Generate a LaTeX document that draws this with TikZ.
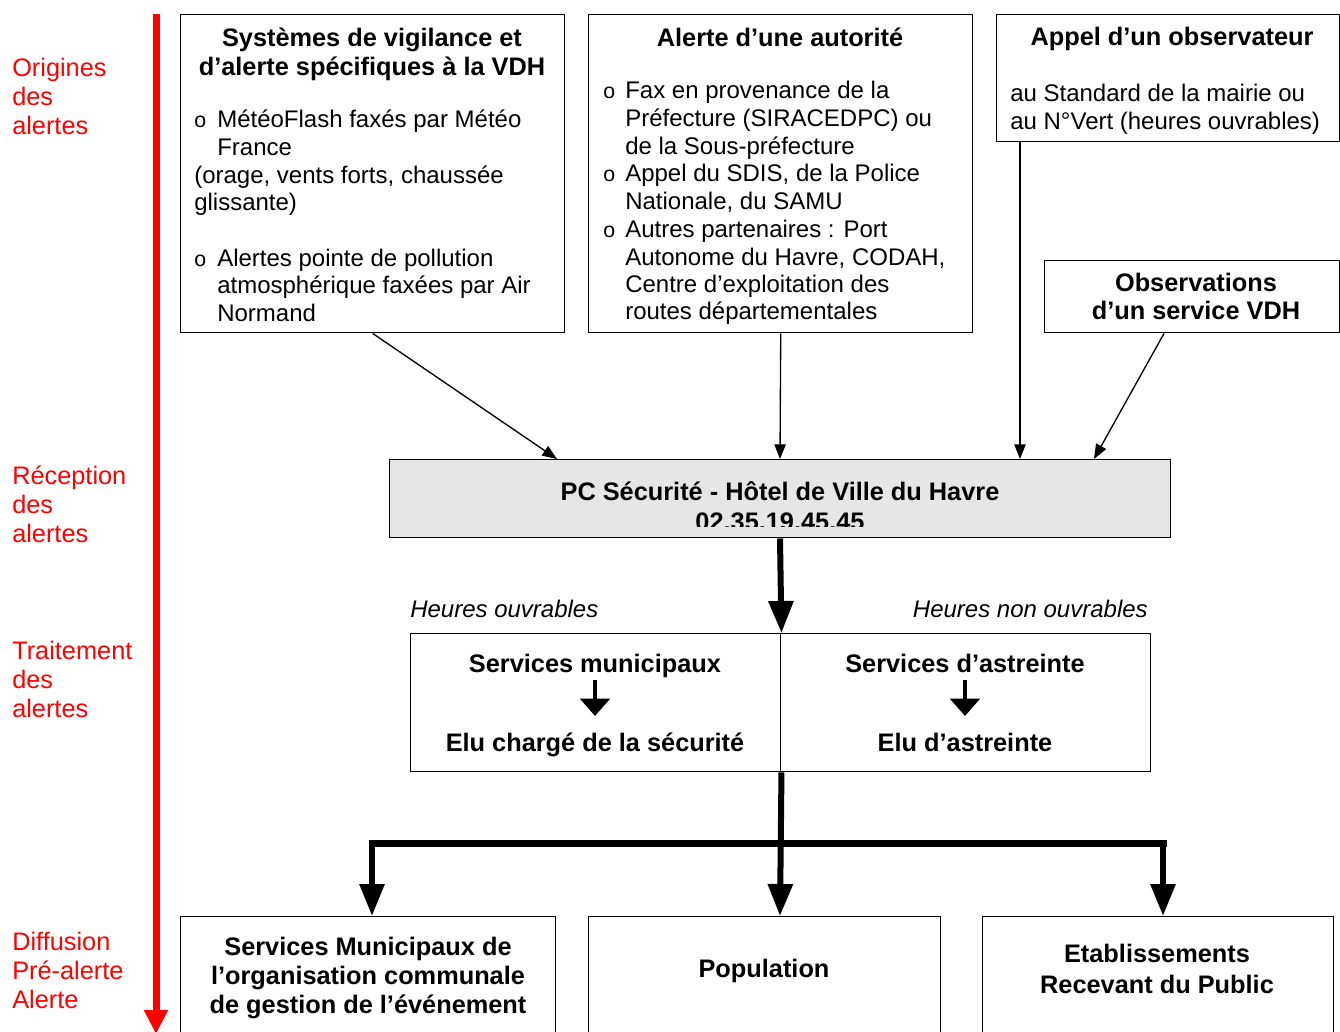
\documentclass[tikz,border=0pt]{standalone}
\usepackage{fontspec}
\setmainfont{Liberation Sans}
\usetikzlibrary{arrows.meta,calc}
\definecolor{pcgray}{RGB}{230,230,230}
\begin{document}
\begin{tikzpicture}[x=0.75pt,y=-0.75pt,
  every node/.style={inner sep=0pt},
  txt/.style={font=\fontsize{18}{21}\selectfont},
  btxt/.style={font=\fontsize{19}{21}\selectfont\bfseries},
  itxt/.style={font=\fontsize{18}{21}\selectfont\itshape},
  rtxt/.style={font=\fontsize{19}{21}\selectfont, text=red, anchor=base west},
  bul/.style={font=\fontsize{16}{21}\selectfont, anchor=base west},
  boxA/.style={draw=black, line width=1.1pt, anchor=north west},
  thinarr/.style={line width=1pt, -{Triangle[length=11pt,width=8.5pt]}},
  thickarr/.style={line width=4.5pt, -{Triangle[length=24pt,width=18pt]}},
  smallarr/.style={line width=3pt, -{Triangle[length=13pt,width=22pt]}}
]
\useasboundingbox (0,0) rectangle (1340,1032);
\clip (0,0) rectangle (1340,1032);

% red time axis
\coordinate (axtop) at (156,14);
\coordinate (axbot) at (156,1034);
\draw[red, line width=5.25pt, -{Triangle[length=18pt,width=17pt]}] (axtop) -- (axbot);

% red labels
\node[rtxt] (r1a) at (12,76) {Origines};
\node[rtxt] (r1b) at (12,105) {des};
\node[rtxt] (r1c) at (12,134) {alertes};
\node[rtxt] (r2a) at (12,484) {Réception};
\node[rtxt] (r2b) at (12,513) {des};
\node[rtxt] (r2c) at (12,542) {alertes};
\node[rtxt] (r3a) at (12,659) {Traitement};
\node[rtxt] (r3b) at (12,688) {des};
\node[rtxt] (r3c) at (12,717) {alertes};
\node[rtxt] (r4a) at (12,950) {Diffusion};
\node[rtxt] (r4b) at (12,979) {Pré-alerte};
\node[rtxt] (r4c) at (12,1008) {Alerte};

% top boxes
\node[boxA, minimum width=384*0.75pt, minimum height=318*0.75pt] (b1) at (180,14) {};
\node[boxA, minimum width=384*0.75pt, minimum height=318*0.75pt] (b2) at (588,14) {};
\node[boxA, minimum width=343*0.75pt, minimum height=127*0.75pt] (b3) at (996,14) {};
\node[boxA, minimum width=295*0.75pt, minimum height=72*0.75pt] (b4) at (1044,260) {};

% box 1 text
\node[btxt, anchor=base] (b1t1) at (372,46) {Systèmes de vigilance et};
\node[btxt, anchor=base] (b1t2) at (372,75) {d’alerte spécifiques à la VDH};
\node[bul] (b1o1) at (194,127) {o};
\node[txt, anchor=base west] (b1l1) at (217,127) {MétéoFlash faxés par Météo};
\node[txt, anchor=base west] (b1l2) at (217,155) {France};
\node[txt, anchor=base west] (b1l3) at (194,183) {(orage, vents forts, chaussée};
\node[txt, anchor=base west] (b1l4) at (194,210) {glissante)};
\node[bul] (b1o2) at (194,266) {o};
\node[txt, anchor=base west] (b1l5) at (217,266) {Alertes pointe de pollution};
\node[txt, anchor=base west] (b1l6) at (217,293) {atmosphérique faxées par Air};
\node[txt, anchor=base west] (b1l7) at (217,321) {Normand};

% box 2 text
\node[btxt, anchor=base] (b2t1) at (780,46) {Alerte d’une autorité};
\node[bul] (b2o1) at (603,98) {o};
\node[bul] (b2o2) at (603,181) {o};
\node[bul] (b2o3) at (603,237) {o};
\node[txt, anchor=base west] (b2l1) at (625,98) {Fax en provenance de la};
\node[txt, anchor=base west] (b2l2) at (625,126) {Préfecture (SIRACEDPC) ou};
\node[txt, anchor=base west] (b2l3) at (625,154) {de la Sous-préfecture};
\node[txt, anchor=base west] (b2l4) at (625,181) {Appel du SDIS, de la Police};
\node[txt, anchor=base west] (b2l5) at (625,209) {Nationale, du SAMU};
\node[txt, anchor=base west] (b2l6) at (625,237) {Autres partenaires : Port};
\node[txt, anchor=base west] (b2l7) at (625,265) {Autonome du Havre, CODAH,};
\node[txt, anchor=base west] (b2l8) at (625,292) {Centre d’exploitation des};
\node[txt, anchor=base west] (b2l9) at (625,319) {routes départementales};

% box 3 text
\node[btxt, anchor=base] (b3t1) at (1172,45) {Appel d’un observateur};
\node[txt, anchor=base west] (b3l1) at (1010,101) {au Standard de la mairie ou};
\node[txt, anchor=base west] (b3l2) at (1010,129) {au N°Vert (heures ouvrables)};

% box 4 text
\node[btxt, anchor=base] (b4t1) at (1196,291) {Observations};
\node[btxt, anchor=base] (b4t2) at (1196,319) {d’un service VDH};

% PC box
\node[boxA, fill=pcgray, minimum width=781*0.75pt, minimum height=78*0.75pt] (pc) at (389,459) {};
\node[btxt, anchor=base] (pct1) at (780,500) {PC Sécurité - Hôtel de Ville du Havre};
\begin{scope}
\clip (389,459) rectangle (1170,526);
\node[btxt, anchor=base] (pct2) at (780,530) {02.35.19.45.45};
\end{scope}

% arrows to PC
\draw[thinarr] (b1.south) -- ($(pc.north west)+(168,0)$);
\draw[thinarr] (b2.south) -- ($(pc.north west)+(391,0)$);
\draw[thinarr] ($(b3.south west)+(24,0)$) -- ($(pc.north west)+(631,0)$);
\draw[thinarr] ($(b4.south west)+(120,0)$) -- ($(pc.north west)+(705,0)$);

% labels
\node[itxt, anchor=base west] (ho) at (410,617) {Heures ouvrables};
\node[itxt, anchor=base east] (hno) at (1148,617) {Heures non ouvrables};

% split box
\node[boxA, minimum width=370*0.75pt, minimum height=138*0.75pt] (sl) at (410,633) {};
\node[boxA, minimum width=370*0.75pt, minimum height=138*0.75pt] (sr) at (780,633) {};
\node[btxt, anchor=base] (sm) at (595,672) {Services municipaux};
\node[btxt, anchor=base] (ec) at (595,751) {Elu chargé de la sécurité};
\node[btxt, anchor=base] (sa) at (965,672) {Services d’astreinte};
\node[btxt, anchor=base] (ea) at (965,751) {Elu d’astreinte};
\draw[smallarr] ($(sm.base)+(0,8)$) -- ($(ec.base)+(0,-35)$);
\draw[smallarr] ($(sa.base)+(0,8)$) -- ($(ea.base)+(0,-35)$);

% PC -> split
\draw[thickarr] ($(pc.south west)+(391,0)$) -- (sl.north east);

% bottom boxes
\node[boxA, minimum width=375*0.75pt, minimum height=140*0.75pt] (dA) at (180,916) {};
\node[boxA, minimum width=352*0.75pt, minimum height=140*0.75pt] (dB) at (588,916) {};
\node[boxA, minimum width=351*0.75pt, minimum height=140*0.75pt] (dC) at (982,916) {};
\node[btxt, anchor=base] (dA1) at (368,955) {Services Municipaux de};
\node[btxt, anchor=base] (dA2) at (368,984) {l’organisation communale};
\node[btxt, anchor=base] (dA3) at (368,1013) {de gestion de l’événement};
\node[btxt, anchor=base] (dB1) at (764,977) {Population};
\node[btxt, anchor=base] (dC1) at (1157,962) {Etablissements};
\node[btxt, anchor=base] (dC2) at (1157,993) {Recevant du Public};

% distribution
\coordinate (barL) at (372,843);
\coordinate (barR) at (1163,843);
\draw[line width=5.25pt, line cap=rect] (barL) -- (barR);
\draw[thickarr] (sl.south east) -- ($(dB.north west)+(192,0)$);
\draw[thickarr] ($(barL)+(0,-3)$) -- ($(dA.north west)+(192,0)$);
\draw[thickarr] ($(barR)+(0,-3)$) -- ($(dC.north west)+(181,0)$);
\end{tikzpicture}
\end{document}
